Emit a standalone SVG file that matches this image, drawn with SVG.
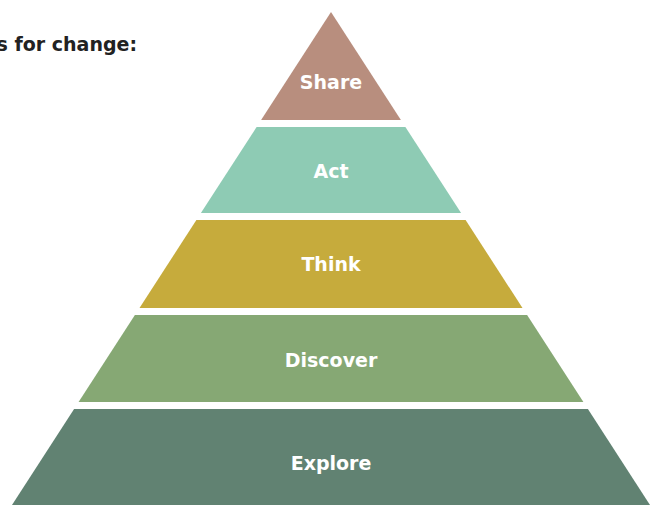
<svg xmlns="http://www.w3.org/2000/svg" width="651" height="505" viewBox="0 0 651 505">
<style>
.lbl{font-family:"DejaVu Sans","Liberation Sans",sans-serif;font-weight:700;font-size:19px;fill:#ffffff;text-anchor:middle}
.ttl{font-family:"DejaVu Sans","Liberation Sans",sans-serif;font-weight:700;font-size:19px;fill:#222222;text-anchor:end}
</style>
<rect width="651" height="505" fill="#ffffff"/>
<text class="ttl" x="137" y="51">s for change:</text>
<g id="share"><polygon points="331,12 400.9,120 261.1,120" fill="#B88E7E"/><text class="lbl" x="331" y="89">Share</text></g>
<g id="act"><polygon points="256.6,127 405.4,127 461.1,213 200.9,213" fill="#8ECBB4"/><text class="lbl" x="331" y="178">Act</text></g>
<g id="think"><polygon points="196.4,220 465.6,220 522.5,308 139.5,308" fill="#C6AB3C"/><text class="lbl" x="331" y="271">Think</text></g>
<g id="discover"><polygon points="134.9,315 527.1,315 583.4,402 78.6,402" fill="#86A874"/><text class="lbl" x="331" y="367">Discover</text></g>
<g id="explore"><polygon points="74.1,409 587.9,409 650,505 12,505" fill="#618272"/><text class="lbl" x="331" y="470">Explore</text></g>
<g id="connectors"></g>
</svg>
